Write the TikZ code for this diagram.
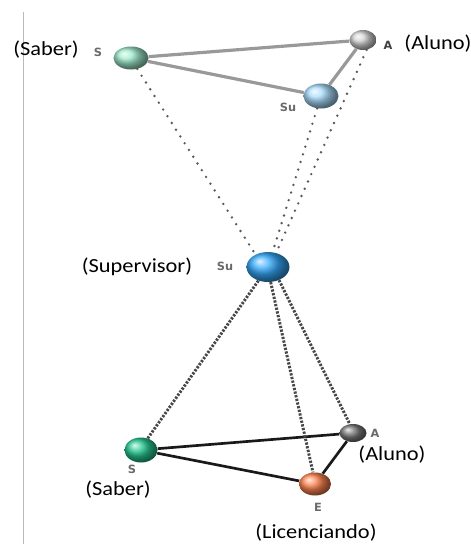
\documentclass[tikz,border=0pt]{standalone}
\usepackage{fontspec}
\setmainfont{Carlito}[FakeStretch=1.12]
\newfontfamily\tagfont{DejaVu Sans}
\usetikzlibrary{shapes.geometric,backgrounds}
\definecolor{topS}{HTML}{9EEACB}
\definecolor{topA}{HTML}{D2D2D2}
\definecolor{topSu}{HTML}{AADDFC}
\definecolor{midSu}{HTML}{35AAFC}
\definecolor{botS}{HTML}{26C892}
\definecolor{botA}{HTML}{7A7A7A}
\definecolor{botE}{HTML}{FF8450}
\definecolor{tagcol}{HTML}{6A6A6A}
\tikzset{
  ball/.style={ellipse, inner sep=0pt, shading=ball, ball color=#1},
  lbl/.style={inner sep=0pt, font=\fontsize{15}{17}\selectfont},
  tagl/.style={inner sep=0pt, text=tagcol, font=\tagfont\bfseries\fontsize{8.5}{10}\selectfont},
  topedge/.style={draw=gray!80, line width=2.4pt},
  botedge/.style={draw=black!90, line width=2pt},
  dotline/.style={draw=gray!70!black, line width=2pt, line cap=round, dash pattern=on 0pt off 6pt},
  dashline/.style={draw=black!72, line width=2.2pt, dash pattern=on 1.7pt off 1.1pt}
}
\begin{document}
\begin{tikzpicture}[x=0.75pt,y=-0.75pt]
\useasboundingbox (0,0) rectangle (471,544);
\draw[gray!55, line width=0.6pt] (23,12) coordinate (l1) -- (23,544) coordinate (l2);
% balls
\node[ball=topS, minimum width=26.25pt, minimum height=17.25pt] (tS) at (131,58) {};
\node[ball=topA, minimum width=20.25pt, minimum height=15pt] (tA) at (363,40) {};
\node[ball=topSu, minimum width=26.25pt, minimum height=18.75pt] (tSu) at (321,96) {};
\node[ball=midSu, minimum width=32.25pt, minimum height=22.5pt] (mSu) at (268,267) {};
\node[ball=botS, minimum width=24.75pt, minimum height=18.75pt] (bS) at (141,450) {};
\node[ball=botA, minimum width=20.25pt, minimum height=13.5pt] (bA) at (353,433) {};
\node[ball=botE, minimum width=24pt, minimum height=17.25pt] (bE) at (315,484) {};
% labels
\node[lbl] (lSaberT) at (46,50) {(Saber)};
\node[tagl] (tagST) at (98,52) {S};
\node[tagl, text=black!75] (tagAT) at (388,45) {A};
\node[lbl] (lAlunoT) at (438,44) {(Aluno)};
\node[tagl] (tagSuT) at (288,107) {Su};
\node[lbl] (lSup) at (137,267) {(Supervisor)};
\node[tagl] (tagSuM) at (225,266) {Su};
\node[tagl] (tagSB) at (132,469) {S};
\node[lbl] (lSaberB) at (118,490) {(Saber)};
\node[tagl] (tagAB) at (375,433) {A};
\node[lbl] (lAlunoB) at (392,455) {(Aluno)};
\node[tagl] (tagEB) at (318,507) {E};
\node[lbl] (lLic) at (316,533) {(Licenciando)};
\begin{scope}[on background layer]
\fill[white] (0,0) rectangle (471,544);
\draw[topedge] (tS) -- (tA);
\draw[topedge] (tS) -- (tSu);
\draw[topedge] (tSu) -- (tA);
\draw[botedge] (bS) -- (bA);
\draw[botedge] (bS) -- (bE);
\draw[botedge] (bE) -- (bA);
\draw[dotline] (tS.-60) -- (mSu.135);
\draw[dotline] (tSu) -- (mSu);
\draw[dotline] (tA.-70) -- (mSu.60);
\draw[dashline] (mSu.-125) -- (bS.60);
\draw[dashline] (mSu.-80) -- (bE.100);
\draw[dashline] (mSu.-50) -- (bA.110);
\end{scope}
\end{tikzpicture}
\end{document}
